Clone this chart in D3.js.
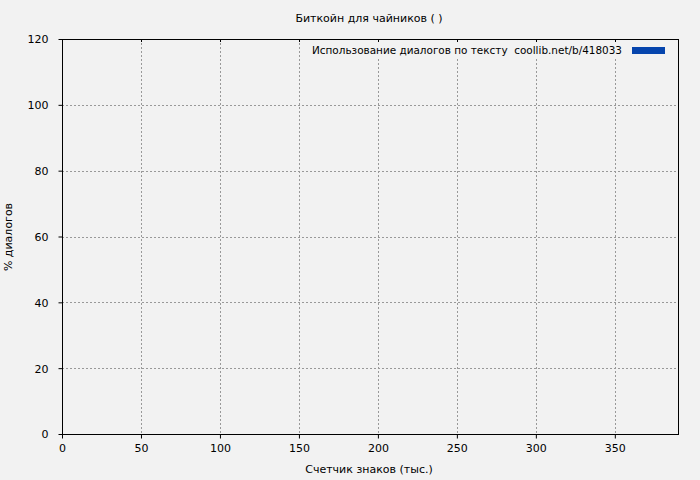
<!DOCTYPE html>
<html><head><meta charset="utf-8">
<script src="https://cdn.jsdelivr.net/npm/d3@7"></script>
<style>body{margin:0;background:#f2f2f2}svg{display:block}text{font-family:"DejaVu Sans",sans-serif;font-size:11px;fill:#000}</style>
</head><body><svg id="c" width="700" height="480"></svg>
<script>
const title = "Биткойн для чайников ( )";
const xLabel = "Счетчик знаков (тыс.)";
const yLabel = "% диалогов";
const seriesName = "Использование диалогов по тексту  coollib.net/b/418033";
const xTicks = [0, 50, 100, 150, 200, 250, 300, 350];
const yTicks = [0, 20, 40, 60, 80, 100, 120];
const xDomain = [0, 390];
const yDomain = [0, 120];
// no dialogue data in the reference: empty series
const seriesX = [];
const seriesY = [];

const svg = d3.select("#c");
svg.append("rect").attr("width",700).attr("height",480).attr("fill","#f2f2f2");
const L=62, R=678, T=39, B=434;
const x = d3.scaleLinear().domain(xDomain).range([L,R]);
const y = d3.scaleLinear().domain(yDomain).range([B,T]);

// grid
const g = svg.append("g").attr("stroke","#999").attr("stroke-dasharray","2,2").attr("stroke-width",1);
xTicks.filter(d=>d>0).forEach(d=>g.append("line").attr("x1",Math.round(x(d))+0.5).attr("x2",Math.round(x(d))+0.5).attr("y1",T).attr("y2",B));
yTicks.filter(d=>d>0&&d<120).forEach(d=>g.append("line").attr("x1",L).attr("x2",R).attr("y1",Math.round(y(d))+0.5).attr("y2",Math.round(y(d))+0.5));

// data bars (none)
const data = seriesX.map((v,i)=>({x:v,y:seriesY[i]}));
svg.append("g").selectAll("rect").data(data).join("rect")
  .attr("x",d=>x(d.x)).attr("width",2).attr("y",d=>y(d.y)).attr("height",d=>B-y(d.y)).attr("fill","#0645ad");

// legend blank
svg.append("rect").attr("x",310).attr("y",41).attr("width",316).attr("height",16).attr("fill","#f2f2f2");

// axes
const xa = svg.append("g").attr("transform",`translate(0,${B+0.5})`)
  .call(d3.axisBottom(x).tickValues(xTicks).tickSize(4).tickSizeOuter(0).tickPadding(6));
const ya = svg.append("g").attr("transform",`translate(${L+0.5},0)`)
  .call(d3.axisLeft(y).tickValues(yTicks).tickSize(4).tickSizeOuter(0).tickPadding(10));
[xa,ya].forEach(a=>{a.select(".domain").remove();a.selectAll("line").attr("stroke","#000");a.selectAll("text").attr("font-family","DejaVu Sans").attr("font-size",11).attr("fill","#000");});
ya.selectAll("text").attr("dy","0.35em");
// top mirror ticks
xTicks.filter(d=>d>0).forEach(d=>svg.append("line").attr("x1",Math.round(x(d))+0.5).attr("x2",Math.round(x(d))+0.5).attr("y1",T).attr("y2",T+3).attr("stroke","#000"));
// frame
svg.append("rect").attr("x",L+0.5).attr("y",T+0.5).attr("width",R-L).attr("height",B-T).attr("fill","none").attr("stroke","#000");

// texts
svg.append("text").attr("x",369).attr("y",22).attr("text-anchor","middle").text(title);
svg.append("text").attr("x",369).attr("y",473).attr("text-anchor","middle").text(xLabel);
svg.append("text").attr("transform","translate(12,237) rotate(-90)").attr("text-anchor","middle").text(yLabel);
svg.append("text").attr("x",622).attr("y",54).attr("text-anchor","end").attr("font-size",10.5)
  .attr("textLength",310).attr("lengthAdjust","spacingAndGlyphs")
  .attr("xml:space","preserve").style("white-space","pre").text(seriesName);
svg.append("rect").attr("x",632).attr("y",47).attr("width",33).attr("height",7).attr("fill","#0645ad");
</script></body></html>
